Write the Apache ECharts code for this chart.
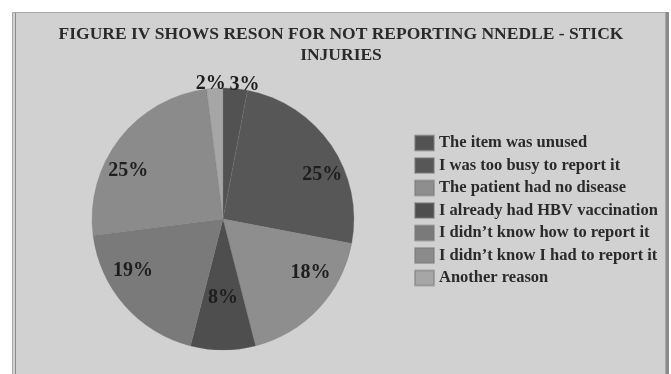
<!DOCTYPE html>
<html style="height: 100%">
<head>
<meta charset="utf-8">
<title>Figure IV</title>
<script src="https://cdn.jsdelivr.net/npm/echarts@6/dist/echarts.min.js"></script>
</head>
<body style="height: 100%; margin: 0; background: #fff">
<div id="container" style="width: 671px; height: 374px"></div>
<script type="text/javascript">
var reasons = [
    "The item was unused",
    "I was too busy to report it",
    "The patient had no disease",
    "I already had HBV vaccination",
    "I didn\u2019t know how to report it",
    "I didn\u2019t know I had to report it",
    "Another reason"
];
var percents = [3, 25, 18, 8, 19, 25, 2];
var sliceColors = ['#525252', '#575757', '#8e8e8e', '#4e4e4e', '#7a7a7a', '#8b8b8b', '#a6a6a6'];

var myChart = echarts.init(document.getElementById('container'));
var serif = 'Liberation Serif';
var pieCenter = [223, 219];

var pieData = [];
for (var i = 0; i < reasons.length; i++) {
    var item = {name: reasons[i], value: percents[i], itemStyle: {color: sliceColors[i]}};
    if (percents[i] < 5) {
        item.label = {position: 'outside'};
        item.labelLine = {show: false, length: 2, length2: 0};
    }
    pieData.push(item);
}

var option = {
    backgroundColor: '#fff',
    graphic: [{
        type: 'rect',
        z: -10,
        shape: {x: 12.5, y: 12.5, width: 653, height: 380},
        style: {fill: '#d1d1d1', stroke: '#a8a8a8', lineWidth: 1,
                shadowColor: '#8a8a8a', shadowOffsetX: 3, shadowBlur: 0}
    }],
    title: {
        text: 'FIGURE IV SHOWS RESON FOR NOT REPORTING NNEDLE - STICK\nINJURIES',
        left: 341,
        textAlign: 'center',
        top: 24,
        padding: 0,
        textStyle: {fontFamily: serif, fontSize: 17.5, fontWeight: 'bold', color: '#2a2a2a', lineHeight: 21}
    },
    legend: {
        orient: 'vertical',
        left: 414,
        top: 134.5,
        padding: 0,
        itemWidth: 19,
        itemHeight: 15,
        itemGap: 5.5,
        icon: 'rect',
        data: reasons,
        textStyle: {fontFamily: serif, fontSize: 16.5, fontWeight: 'bold', color: '#2a2a2a', lineHeight: 15}
    },
    series: [{
        type: 'pie',
        center: pieCenter,
        radius: 131,
        startAngle: 90,
        clockwise: true,
        animation: false,
        avoidLabelOverlap: false,
        itemStyle: {borderColor: 'rgba(120,120,120,0.5)', borderWidth: 0.5},
        label: {
            position: 'inside',
            formatter: '{c}%',
            fontFamily: serif,
            fontSize: 20,
            fontWeight: 'bold',
            color: '#1e1e1e'
        },
        labelLayout: function (p) {
            var r = p.labelRect;
            var cx = r.x + r.width / 2, cy = r.y + r.height / 2;
            if (percents[p.dataIndex] < 5) {
                return {dx: cx < pieCenter[0] ? 16 : -11, dy: -2};
            }
            return {dx: (cx - pieCenter[0]) * 0.75, dy: (cy - pieCenter[1]) * 0.15};
        },
        data: pieData
    }]
};
myChart.setOption(option);
</script>
</body>
</html>
